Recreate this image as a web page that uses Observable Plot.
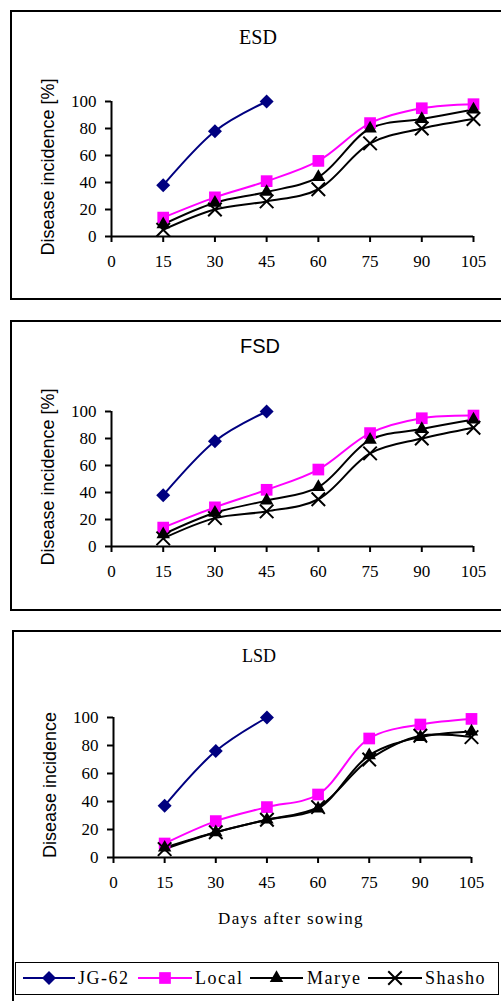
<!DOCTYPE html>
<html><head><meta charset="utf-8">
<script src="https://cdn.jsdelivr.net/npm/d3@7"></script>
<script src="https://cdn.jsdelivr.net/npm/@observablehq/plot@0.6"></script>
<style>
html,body{margin:0;padding:0;background:#fff;}
#page{position:relative;width:501px;height:1001px;overflow:hidden;background:#fff;}
.box{position:absolute;border:2px solid #000;box-sizing:border-box;}
.plot{position:absolute;left:0;}
#page svg.plot text{font-family:"Liberation Serif","Times New Roman",serif !important;font-size:17px !important;}
.title{position:absolute;transform:translate(-50%,-50%);white-space:nowrap;line-height:1;color:#000;}
.ylab{position:absolute;transform:translate(-50%,-50%) rotate(-90deg);white-space:nowrap;line-height:1;font-family:"Liberation Sans",Arial,sans-serif;font-size:18px;color:#000;}
</style></head><body><div id="page"></div>
<script>
// ---- data ----
const days = [15, 30, 45, 60, 75, 90, 105];
const xTicks = [0, 15, 30, 45, 60, 75, 90, 105];
const yTicks = [0, 20, 40, 60, 80, 100];
const varieties = ["JG-62", "Local", "Marye", "Shasho"];
const panelTitles = ["ESD", "FSD", "LSD"];
const yLabels = ["Disease incidence [%]", "Disease incidence [%]", "Disease incidence"];
const xLabel = "Days after sowing";

const esdJG62 = [38, 78, 100];
const esdLocal = [14, 29, 41, 56, 84, 95, 98];
const esdMarye = [9, 25, 33, 44, 80, 87, 94];
const esdShasho = [5, 20, 26, 35, 69, 80, 87];

const fsdJG62 = [38, 78, 100];
const fsdLocal = [14, 29, 42, 57, 84, 95, 97];
const fsdMarye = [9, 25, 34, 44, 79, 87, 94];
const fsdShasho = [6, 21, 26, 35, 69, 80, 88];

const lsdJG62 = [37, 76, 100];
const lsdLocal = [10, 26, 36, 45, 85, 95, 99];
const lsdMarye = [7, 18, 27, 35, 73, 86, 90];
const lsdShasho = [6, 18, 27, 36, 70, 87, 86];

const colors = ["#000080", "#FF00FF", "#000000", "#000000"];
const symbols = ["diamond2", "square", "triangle", "times"];
const d3symbols = [d3.symbolDiamond2, d3.symbolSquare, d3.symbolTriangle, d3.symbolTimes];
const radii = [6.3, 6.6, 5.0, 6.2];

function rows(series) {
  return series.flatMap((vals, i) => vals.map((v, j) => ({variety: varieties[i], day: days[j], value: v})));
}

const page = document.getElementById("page");

function addBox(left, top, width, height, bw) {
  const b = document.createElement("div");
  b.className = "box";
  Object.assign(b.style, {left: left + "px", top: top + "px", width: width + "px", height: height + "px", borderWidth: (bw || 2) + "px"});
  page.appendChild(b);
}
function addTitle(text, x, y, font, size) {
  const t = document.createElement("div");
  t.className = "title";
  t.textContent = text;
  Object.assign(t.style, {left: x + "px", top: y + "px", fontFamily: font, fontSize: size + "px"});
  page.appendChild(t);
}
function addYLabel(text, x, y) {
  const t = document.createElement("div");
  t.className = "ylab";
  t.textContent = text;
  Object.assign(t.style, {left: x + "px", top: y + "px"});
  page.appendChild(t);
}

function makePlot(series, top, m) {
  const data = rows(series);
  const marks = [
    Plot.ruleX([0], {y1: 0, y2: 100, strokeWidth: 2}),
    Plot.ruleY([0], {x1: 0, x2: 105, strokeWidth: 2}),
    Plot.axisX(xTicks, {tickSize: 6, tickPadding: 12, strokeWidth: 2, label: null, tickFormat: d => String(d)}),
    Plot.axisY(yTicks, {tickSize: 6, tickPadding: 9, strokeWidth: 2, label: null, tickFormat: d => String(d)})
  ];
  varieties.forEach((v, i) => {
    const sub = data.filter(d => d.variety === v);
    marks.push(Plot.line(sub, {x: "day", y: "value", stroke: colors[i], strokeWidth: 2, curve: "catmull-rom"}));
  });
  varieties.forEach((v, i) => {
    const sub = data.filter(d => d.variety === v);
    if (symbols[i] === "times") {
      marks.push(Plot.dot(sub, {x: "day", y: "value", symbol: "times", r: radii[i], stroke: colors[i], strokeWidth: 2, fill: "none"}));
    } else {
      marks.push(Plot.dot(sub, {x: "day", y: "value", symbol: symbols[i], r: radii[i], fill: colors[i], stroke: "none"}));
    }
  });
  const svg = Plot.plot({
    width: 501, height: 300,
    marginLeft: m[0], marginRight: m[1], marginTop: m[2], marginBottom: m[3],
    x: {domain: [0, 105]},
    y: {domain: [0, 100]},
    style: {background: "transparent", color: "#000", overflow: "visible"},
    marks
  });
  svg.classList.add("plot");
  svg.style.top = top + "px";
  svg.style.position = "absolute";
  page.appendChild(svg);
}

// boxes
addBox(10, 10, 600, 290);
addBox(10, 320, 600, 291);
addBox(12, 630, 600, 400);

// panels
makePlot([esdJG62, esdLocal, esdMarye, esdShasho], 0, [111, 28, 101, 64]);
makePlot([fsdJG62, fsdLocal, fsdMarye, fsdShasho], 310, [111, 28, 101, 64]);
makePlot([lsdJG62, lsdLocal, lsdMarye, lsdShasho], 620, [113, 30, 97, 63]);

addTitle(panelTitles[0], 258, 37, '"Liberation Serif", serif', 20);
addTitle(panelTitles[1], 260, 346, '"Liberation Sans", sans-serif', 20);
addTitle(panelTitles[2], 259, 656, '"Liberation Serif", serif', 18);

addYLabel(yLabels[0], 48, 167);
addYLabel(yLabels[1], 48, 477);
addYLabel(yLabels[2], 50, 785);

const xl = document.createElement("div");
xl.className = "title";
xl.textContent = xLabel;
Object.assign(xl.style, {left: "291px", top: "918px", fontFamily: '"Liberation Serif", serif', fontSize: "17px", letterSpacing: "1.3px"});
page.appendChild(xl);

// legend
addBox(15, 962, 484, 33, 1.5);
const legendPos = [[23, 75, 78], [138, 192, 195], [250, 303, 307], [368, 422, 425]];
const ly = 978;
const lsvg = d3.create("svg").attr("width", 501).attr("height", 1001)
  .style("position", "absolute").style("left", "0px").style("top", "0px").style("overflow", "visible");
varieties.forEach((v, i) => {
  const [a, b, t] = legendPos[i];
  lsvg.append("line").attr("x1", a).attr("x2", b).attr("y1", ly).attr("y2", ly)
    .attr("stroke", colors[i]).attr("stroke-width", 2);
  const path = d3.symbol().type(d3symbols[i]).size(Math.PI * radii[i] * radii[i])();
  const p = lsvg.append("path").attr("d", path).attr("transform", `translate(${(a + b) / 2},${ly})`);
  if (symbols[i] === "times") p.attr("fill", "none").attr("stroke", colors[i]).attr("stroke-width", 2);
  else p.attr("fill", colors[i]);
  lsvg.append("text").attr("x", t).attr("y", ly + 6).text(v)
    .attr("font-family", '"Liberation Serif", serif').attr("font-size", 18)
    .attr("letter-spacing", "1.5px").attr("fill", "#000");
});
page.appendChild(lsvg.node());
</script>
</body></html>
